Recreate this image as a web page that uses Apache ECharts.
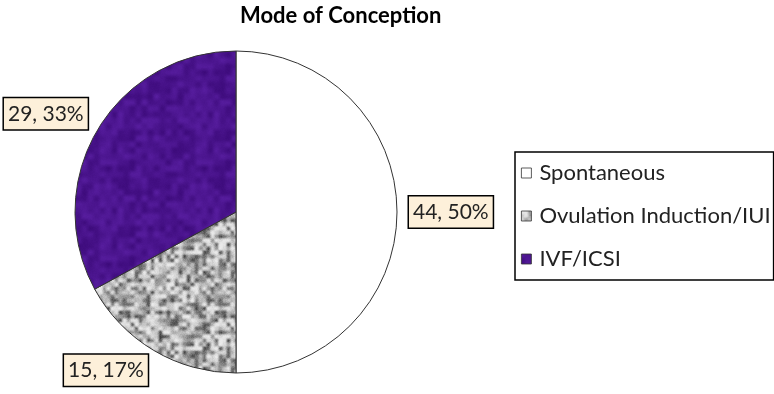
<!DOCTYPE html>
<html><head><meta charset="utf-8">
<script src="https://cdn.jsdelivr.net/npm/echarts@6/dist/echarts.min.js"></script>
<style>html,body{margin:0;padding:0;background:#fff}#c{width:774px;height:394px}</style>
</head><body><div id="c"></div>
<script>
const categories = ['Spontaneous', 'Ovulation Induction/IUI', 'IVF/ICSI'];
const counts = [44, 15, 29];
const chartTitle = 'Mode of Conception';

function hash(x, y, s) { const h = Math.sin(x * 127.1 + y * 311.7 + s * 74.7) * 43758.5453; return h - Math.floor(h); }
// periodic value noise texture (style only)
function texture(seed, cell, fn) {
  const S = 96, N = S / cell;
  const cv = document.createElement('canvas'); cv.width = S; cv.height = S;
  const ctx = cv.getContext('2d'); const id = ctx.createImageData(S, S);
  const g = (x, y) => hash(((x % N) + N) % N, ((y % N) + N) % N, seed);
  const sm = t => t * t * (3 - 2 * t);
  for (let y = 0; y < S; y++) for (let x = 0; x < S; x++) {
    const fx = x / cell, fy = y / cell, ix = Math.floor(fx), iy = Math.floor(fy);
    const tx = sm(fx - ix), ty = sm(fy - iy);
    const a = g(ix, iy), b = g(ix + 1, iy), c = g(ix, iy + 1), d = g(ix + 1, iy + 1);
    let v = (a * (1 - tx) + b * tx) * (1 - ty) + (c * (1 - tx) + d * tx) * ty;
    v = v * 0.9 + hash(x, y, seed + 5) * 0.1;
    const col = fn(v); const i = (y * S + x) * 4;
    id.data[i] = col[0]; id.data[i + 1] = col[1]; id.data[i + 2] = col[2]; id.data[i + 3] = 255;
  }
  ctx.putImageData(id, 0, 0);
  return cv;
}
const grayTex = texture(3, 4, v => { const q = 235 - Math.pow(v, 1.6) * 175; return [q, q, q]; });
const purpleTex = texture(7, 6, v => [60 + v * 28, 10 + v * 20, 122 + v * 38]);

const colors = ['#ffffff', { image: grayTex, repeat: 'repeat' }, { image: purpleTex, repeat: 'repeat' }];
const font = 'Lato, "Open Sans", sans-serif';
const labelShift = [[-3, 0], [5, 13], [4, -12]];

const chart = echarts.init(document.getElementById('c'), null, { renderer: 'canvas' });
chart.setOption({
  animation: false,
  backgroundColor: '#fff',
  title: { text: chartTitle, left: 235, top: 0, textStyle: { fontFamily: font, fontSize: 22, fontWeight: 'bold', color: '#000' } },
  legend: {
    orient: 'vertical', left: 515, top: 152,
    data: categories,
    icon: 'rect', itemWidth: 10, itemHeight: 10, itemGap: 21,
    padding: [10, 3, 10, 6],
    borderColor: '#000', borderWidth: 1.5,
    itemStyle: { borderColor: '#333', borderWidth: 0.8 },
    textStyle: { fontFamily: font, fontSize: 22, lineHeight: 20, color: '#222', padding: [0, 0, 0, 3] }
  },
  series: [{
    type: 'pie',
    center: [236, 212], radius: 161,
    startAngle: 90, clockwise: true,
    percentPrecision: 0,
    avoidLabelOverlap: false,
    itemStyle: { borderColor: '#333', borderWidth: 1 },
    label: {
      show: true, position: 'outside',
      formatter: '{c}, {d}%',
      fontFamily: font, fontSize: 21, color: '#222',
      backgroundColor: '#fdf0da', borderColor: '#000', borderWidth: 1.5,
      padding: [6, 4, 4, 4]
    },
    labelLine: { show: false, length: 8, length2: 2 },
    labelLayout: p => ({ dx: labelShift[p.dataIndex][0], dy: labelShift[p.dataIndex][1] }),
    emphasis: { disabled: true },
    data: categories.map((n, i) => ({ name: n, value: counts[i], itemStyle: { color: colors[i] } }))
  }]
});
</script></body></html>
